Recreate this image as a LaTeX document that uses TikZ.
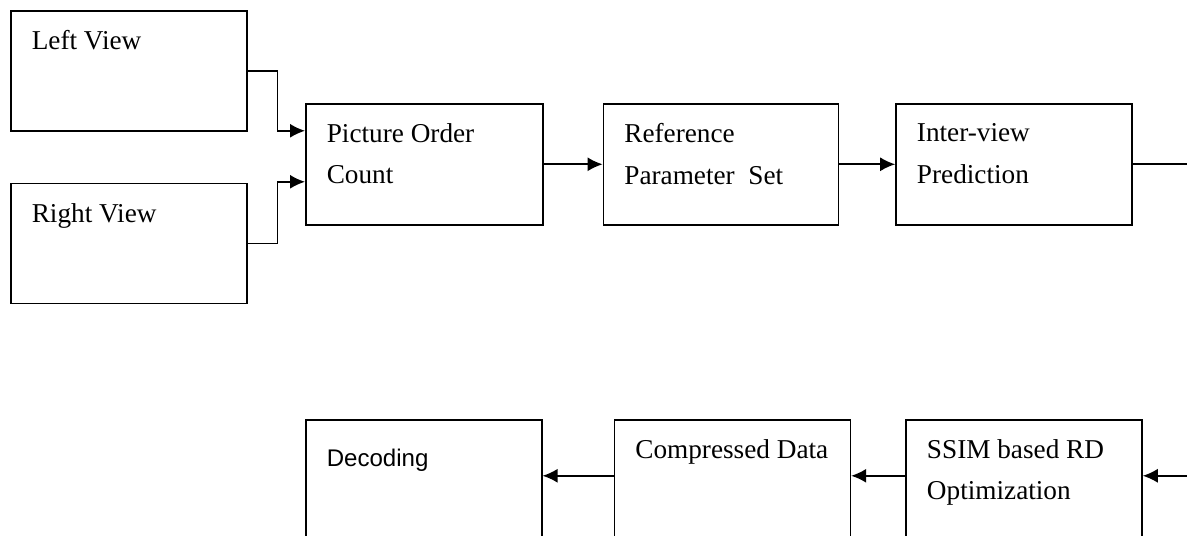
\documentclass[tikz,border=0pt]{standalone}
\usepackage{fontspec}
\setmainfont{Liberation Serif}
\setsansfont{Liberation Sans}
\usetikzlibrary{arrows.meta, positioning}
\tikzset{
  every picture/.style={line width=0.9pt},
  box/.style={draw, minimum width=4.72cm, minimum height=2.42cm, inner sep=0pt},
  txt/.style={anchor=north west, align=left, inner sep=0pt, xshift=0.42cm, yshift=-0.4cm,
    font=\fontsize{15.5}{23.5}\selectfont},
  sanstxt/.style={txt, font=\sffamily\fontsize{13.7}{20}\selectfont},
  arrow/.style={-{Latex[length=0.3cm, width=0.28cm]}},
}

\begin{document}
\begin{tikzpicture}
  \useasboundingbox (0,0) rectangle (23.74,-10.72);
  \coordinate (outr) at (23.74,0);
  % inputs
  \node[box, anchor=north west, minimum height=2.4cm, label={[txt]north west:Left View}] (lview) at (0.2,-0.2) {};
  \node[box, below=1.02cm of lview, minimum height=2.4cm, label={[txt]north west:Right View}] (rview) {};
  % top row
  \node[box, anchor=north west, minimum width=4.74cm, label={[txt]north west:Picture Order\\Count}] (poc) at (6.1,-2.06) {};
  \node[box, right=1.18cm of poc, minimum width=4.7cm, label={[txt]north west:Reference\\Parameter\ \ Set}] (refset) {};
  \node[box, right=1.12cm of refset, label={[txt]north west:Inter-view\\Prediction}] (inter) {};
  \draw[arrow] (lview.east) -- ++(0.6,0) |- ([yshift=0.67cm]poc.west);
  \draw[arrow] (rview.east) -- ++(0.6,0) |- ([yshift=-0.35cm]poc.west);
  \draw[arrow] (poc) -- (refset);
  \draw[arrow] (refset) -- (inter);
  \draw (inter.east) -- (inter.east -| outr);
  % bottom row
  \node[box, anchor=north west, minimum height=2.6cm, label={[sanstxt, yshift=-0.18cm]north west:Decoding}] (dec) at (6.1,-8.38) {};
  \node[box, right=1.42cm of dec, minimum height=2.6cm, label={[txt]north west:Compressed Data}] (comp) {};
  \node[box, right=1.08cm of comp, minimum height=2.6cm, label={[txt]north west:SSIM based RD\\Optimization}] (ssim) {};
  \draw[arrow] ([yshift=0.18cm]ssim.east -| outr) -- ([yshift=0.18cm]ssim.east);
  \draw[arrow] ([yshift=0.18cm]ssim.west) -- ([yshift=0.18cm]comp.east);
  \draw[arrow] ([yshift=0.18cm]comp.west) -- ([yshift=0.18cm]dec.east);
\end{tikzpicture}
\end{document}
